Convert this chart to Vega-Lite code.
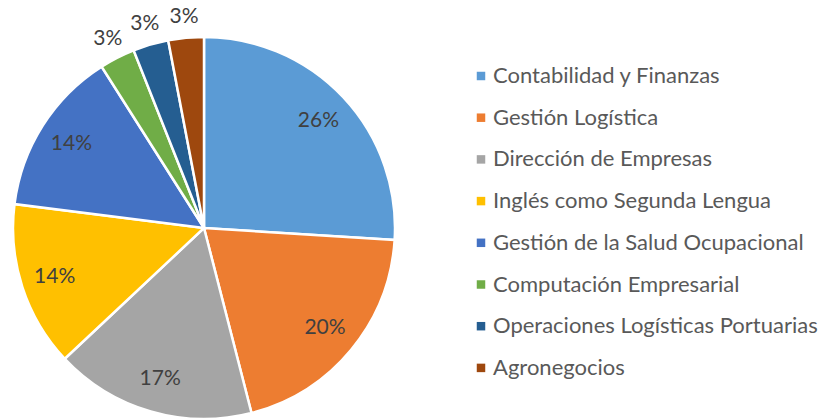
{
  "$schema": "https://vega.github.io/schema/vega-lite/v6.json",
  "width": 408,
  "height": 456,
  "padding": 0,
  "background": "white",
  "config": {"view": {"stroke": null}},
  "data": {
    "values": [
      {"n": 1, "carrera": "Contabilidad y Finanzas", "pct": 0.26},
      {"n": 2, "carrera": "Gestión Logística", "pct": 0.20},
      {"n": 3, "carrera": "Dirección de Empresas", "pct": 0.17},
      {"n": 4, "carrera": "Inglés como Segunda Lengua", "pct": 0.14},
      {"n": 5, "carrera": "Gestión de la Salud Ocupacional", "pct": 0.14},
      {"n": 6, "carrera": "Computación Empresarial", "pct": 0.03},
      {"n": 7, "carrera": "Operaciones Logísticas Portuarias", "pct": 0.03},
      {"n": 8, "carrera": "Agronegocios", "pct": 0.03}
    ]
  },
  "encoding": {
    "theta": {"field": "pct", "type": "quantitative", "stack": true},
    "order": {"field": "n", "type": "quantitative"}
  },
  "layer": [
    {
      "mark": {"type": "arc", "outerRadius": 191, "stroke": "white", "strokeWidth": 2.5},
      "encoding": {
        "color": {
          "field": "carrera",
          "type": "nominal",
          "scale": {
            "domain": ["Contabilidad y Finanzas", "Gestión Logística", "Dirección de Empresas", "Inglés como Segunda Lengua", "Gestión de la Salud Ocupacional", "Computación Empresarial", "Operaciones Logísticas Portuarias", "Agronegocios"],
            "range": ["#5B9BD5", "#ED7D31", "#A5A5A5", "#FFC000", "#4472C4", "#70AD47", "#255E91", "#9E480E"]
          },
          "legend": {
            "title": null,
            "orient": "none",
            "legendX": 470,
            "legendY": 65,
            "symbolType": "square",
            "symbolSize": 72,
            "symbolStrokeWidth": 0,
            "labelFont": "Lato",
            "labelFontSize": 22,
            "labelColor": "#595959",
            "labelLimit": 400,
            "labelOffset": 1,
            "rowPadding": 19.7
          }
        }
      }
    },
    {
      "mark": {"type": "text", "radius": 157, "font": "Lato", "fontSize": 21, "color": "#404040"},
      "encoding": {
        "text": {"condition": {"test": "datum.pct >= 0.1", "field": "pct", "type": "quantitative", "format": ".0%"}, "value": ""}
      }
    },
    {
      "mark": {"type": "text", "radius": 212, "font": "Lato", "fontSize": 21, "color": "#404040"},
      "encoding": {
        "text": {"condition": {"test": "datum.pct < 0.1", "field": "pct", "type": "quantitative", "format": ".0%"}, "value": ""}
      }
    }
  ]
}
